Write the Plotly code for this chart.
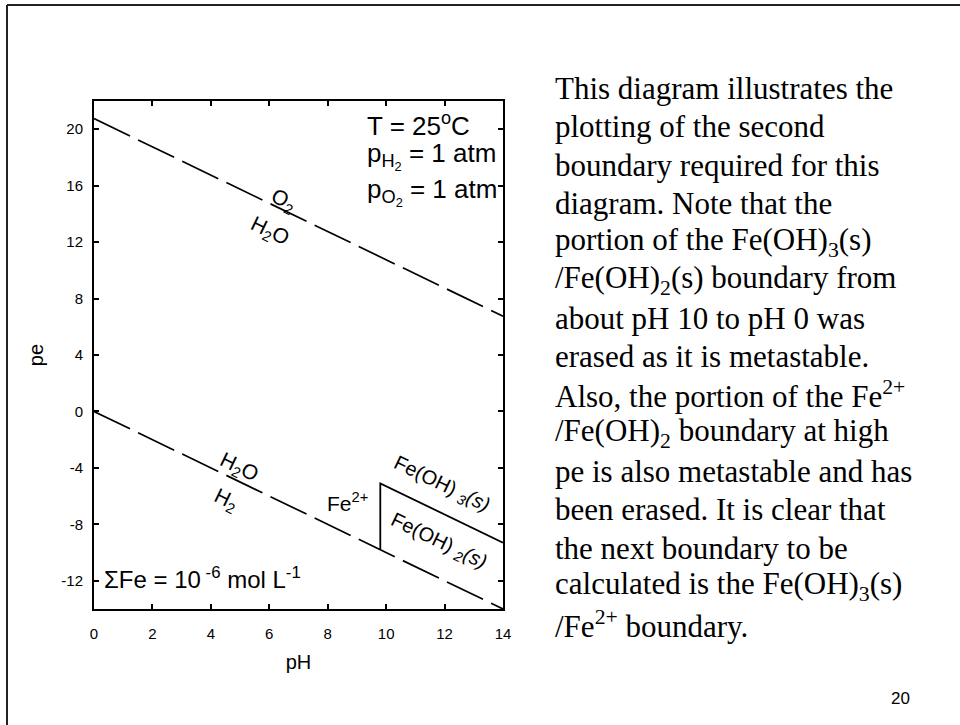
import plotly.graph_objects as go

# pe-pH boundaries for the iron system (25 C, total Fe = 1e-6 mol/L)
ph_ends = [0, 14]
o2_h2o_pe = [20.75, 6.75]          # O2 / H2O water stability limit
h2o_h2_pe = [0.0, -14.0]           # H2O / H2 water stability limit
fe_bound_ph = [9.8, 9.8, 14.0]     # Fe2+/Fe(OH)2 then Fe(OH)3/Fe(OH)2
fe_bound_pe = [-9.8, -5.1, -9.3]

x_ticks = [0, 2, 4, 6, 8, 10, 12, 14]
y_ticks = [-12, -8, -4, 0, 4, 8, 12, 16, 20]
y_tick_text = ["-12", "-8", "-4", "0", "4", "8", "12", "16", "20"]

side_lines = [
    "This diagram illustrates the",
    "plotting of the second",
    "boundary required for this",
    "diagram. Note that the",
    "portion of the Fe(OH)<sub>3</sub>(s)",
    "/Fe(OH)<sub>2</sub>(s) boundary from",
    "about pH 10 to pH 0 was",
    "erased as it is metastable.",
    "Also, the portion of the Fe<sup>2+</sup>",
    "/Fe(OH)<sub>2</sub> boundary at high",
    "pe is also metastable and has",
    "been erased. It is clear that",
    "the next boundary to be",
    "calculated is the Fe(OH)<sub>3</sub>(s)",
    "/Fe<sup>2+</sup> boundary.",
]

W, H = 960, 725
L, R, T, B = 94, 503, 101, 609   # plot area in pixels
SANS = "Liberation Sans, Arial, sans-serif"
SERIF = "Liberation Serif, Times New Roman, serif"


def px_x(p):
    return (p - L) / (R - L)


def px_y(p):
    return (B - p) / (B - T)


fig = go.Figure()
dash = "40px,9px"
fig.add_trace(go.Scatter(x=ph_ends, y=o2_h2o_pe, mode="lines",
                         line=dict(color="black", width=1.7, dash=dash)))
fig.add_trace(go.Scatter(x=ph_ends, y=h2o_h2_pe, mode="lines",
                         line=dict(color="black", width=1.7, dash=dash)))
fig.add_trace(go.Scatter(x=fe_bound_ph, y=fe_bound_pe, mode="lines",
                         line=dict(color="black", width=1.8)))

ang = 25.8
ann = []


def lab(x, y, text, size=21, angle=0, xanchor="center", font=SANS):
    ann.append(dict(x=x, y=y, xref="x", yref="y", text=text, showarrow=False,
                    textangle=angle, xanchor=xanchor, yanchor="middle",
                    font=dict(family=font, size=size, color="black")))


lab(6.5, 14.9, "O<sub>2</sub>", angle=ang)
lab(6.04, 12.75, "H<sub>2</sub>O", angle=ang)
lab(4.98, -4.0, "H<sub>2</sub>O", angle=ang)
lab(4.5, -6.3, "H<sub>2</sub>", angle=ang)
lab(8.68, -6.4, "Fe<sup>2+</sup>", size=21)
lab(11.88, -5.16, "Fe(OH) <i><sub>3</sub>(s)</i>", size=20, angle=ang)
lab(11.78, -9.2, "Fe(OH) <i><sub>2</sub>(s)</i>", size=20, angle=ang)
lab(9.28, 20.3, "T = 25<sup>o</sup>C", size=26, xanchor="left")
lab(9.28, 18.1, "p<sub>H<sub>2</sub></sub> = 1 atm", size=26, xanchor="left")
lab(9.28, 15.55, "p<sub>O<sub>2</sub></sub> = 1 atm", size=26, xanchor="left")
lab(0.26, -11.8, "\u03a3Fe = 10<sup> -6</sup> mol L<sup>-1</sup>", size=24, xanchor="left")

# explanatory text column, one line per annotation
for i, line in enumerate(side_lines):
    base = 98.4 + i * 38.3
    ann.append(dict(x=px_x(553), y=px_y(base - 10), xref="paper", yref="paper",
                    text=line, showarrow=False, xanchor="left", yanchor="middle",
                    font=dict(family=SERIF, size=31, color="black")))

# slide number
ann.append(dict(x=px_x(900), y=px_y(698), xref="paper", yref="paper", text="20",
                showarrow=False, xanchor="center", yanchor="middle",
                font=dict(family=SANS, size=17, color="black")))

# slide frame (top and left edges)
shapes = [
    dict(type="line", xref="paper", yref="paper", x0=px_x(7), x1=px_x(970),
         y0=px_y(5), y1=px_y(5), line=dict(color="#222", width=2)),
    dict(type="line", xref="paper", yref="paper", x0=px_x(7), x1=px_x(7),
         y0=px_y(5), y1=px_y(740), line=dict(color="#222", width=2)),
]

axis_common = dict(showline=True, linewidth=2, linecolor="black", mirror="ticks",
                   ticks="inside", ticklen=5, tickwidth=2, tickcolor="black",
                   showgrid=False, zeroline=False,
                   tickfont=dict(family=SANS, size=15, color="black"))

fig.update_layout(
    width=W, height=H,
    margin=dict(l=L, r=W - R, t=T, b=H - B),
    paper_bgcolor="white", plot_bgcolor="white",
    showlegend=False,
    annotations=ann, shapes=shapes,
    xaxis=dict(range=[0, 14], tickvals=x_ticks, ticklabelstandoff=10,
               title=dict(text="pH", standoff=14,
                          font=dict(family=SANS, size=20, color="black")),
               **axis_common),
    yaxis=dict(range=[-14, 22], tickvals=y_ticks, ticktext=y_tick_text,
               ticklabelstandoff=6,
               title=dict(text="pe", standoff=12,
                          font=dict(family=SANS, size=20, color="black")),
               **axis_common),
)

fig.write_html("out.html")
